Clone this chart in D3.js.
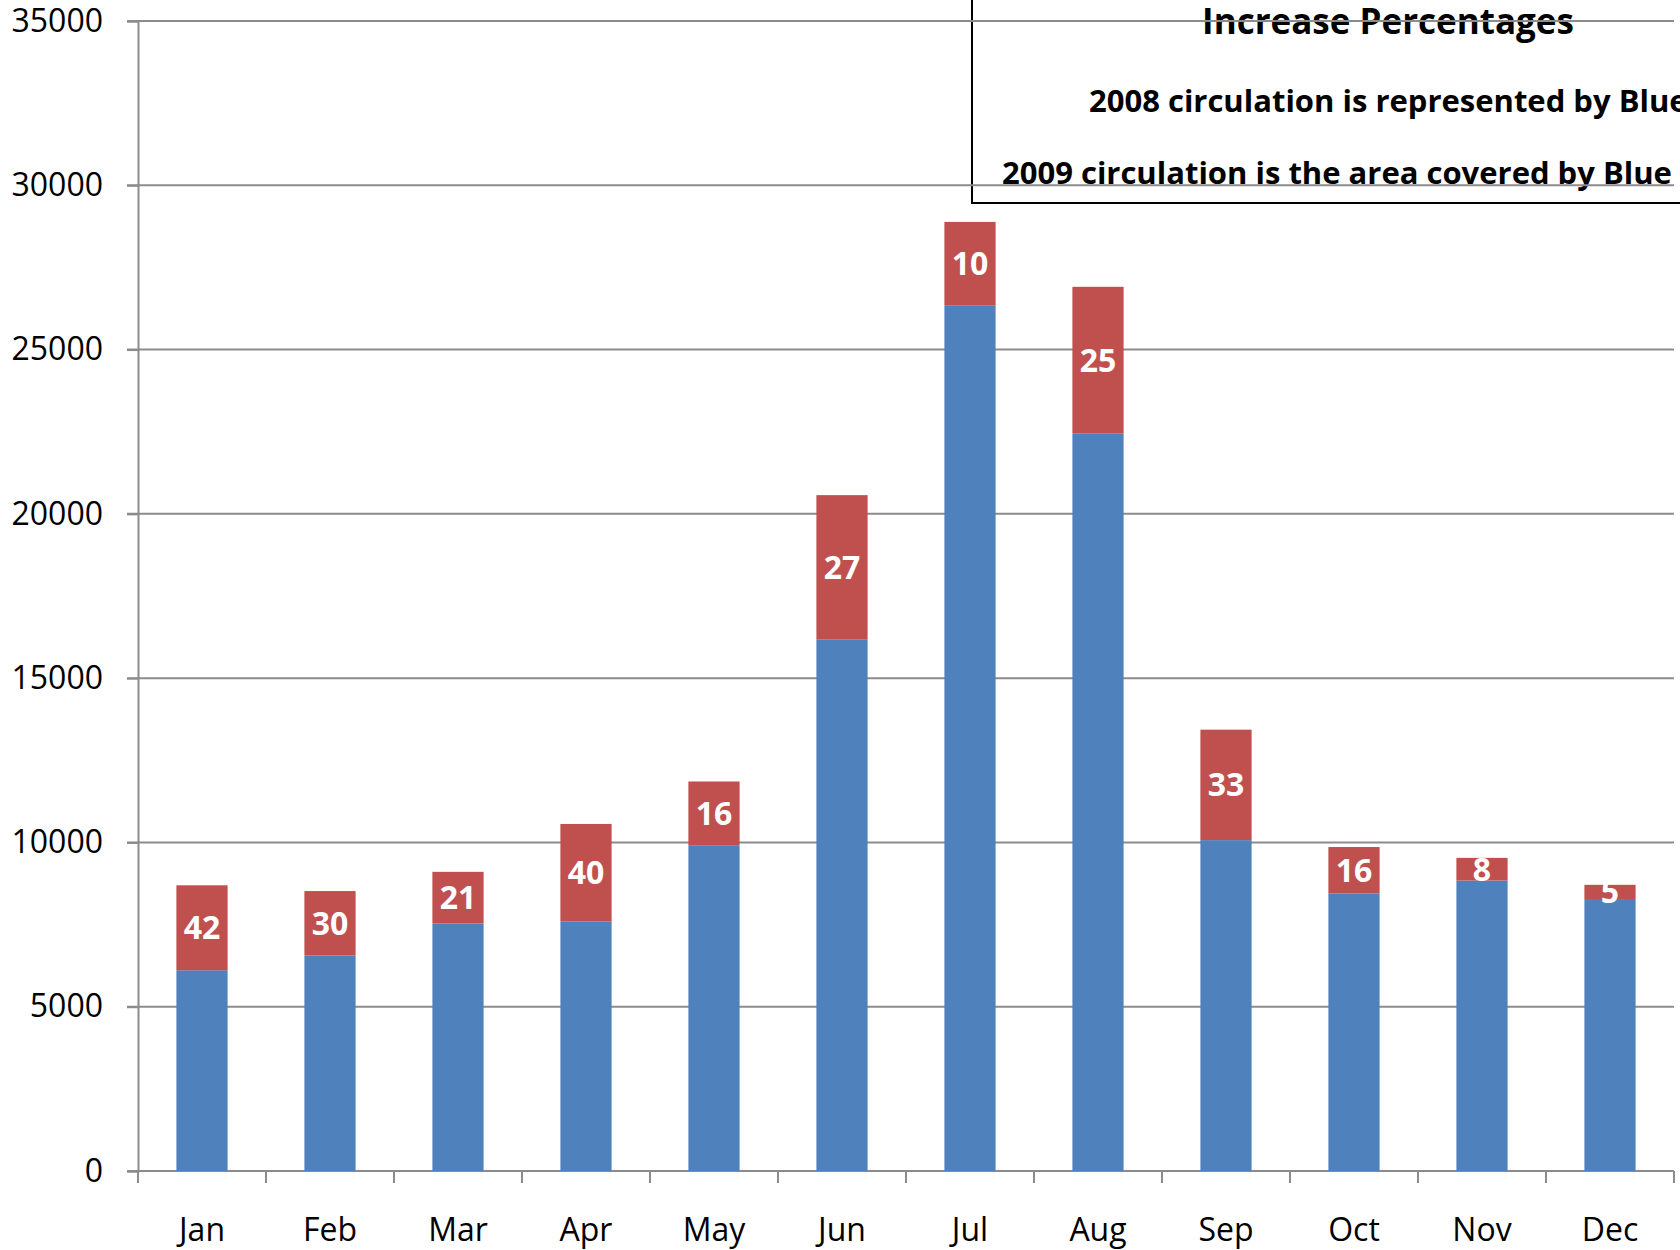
<!DOCTYPE html>
<html>
<head>
<meta charset="utf-8">
<script src="https://cdn.jsdelivr.net/npm/d3@7"></script>
<style>
  html, body { margin: 0; padding: 0; background: #fff; }
  svg { display: block; font-family: "Open Sans", "Noto Sans", sans-serif; }
</style>
</head>
<body>
<div id="chartArea"></div>
<script>
// months and circulation values
let months = ["Jan", "Feb", "Mar", "Apr", "May", "Jun", "Jul", "Aug", "Sep", "Oct", "Nov", "Dec"];
let circ2008 = [6110, 6560, 7535, 7590, 9915, 16170, 26335, 22440, 10070, 8450, 8840, 8278];
let circ2009 = [8695, 8520, 9105, 10562, 11855, 20570, 28885, 26910, 13432, 9860, 9530, 8710];
let increasePct = [42, 30, 21, 40, 16, 27, 10, 25, 33, 16, 8, 5];
let yTicks = [0, 5000, 10000, 15000, 20000, 25000, 30000, 35000];

let width = 1680;
let height = 1250;
let margin = {top: 21, right: 6, bottom: 79, left: 138};

let blue = "#4f81bd";
let red = "#c0504d";
let gridGray = "#8c8c8c";

let svg = d3.select("#chartArea")
  .append("svg")
  .attr("width", width)
  .attr("height", height);

let x = d3.scaleBand()
  .domain(months)
  .range([margin.left, width - margin.right])
  .paddingInner(0.6)
  .paddingOuter(0.3);

let y = d3.scaleLinear()
  .domain([0, 35000])
  .range([height - margin.bottom, margin.top]);

// text box in the upper right (sits under the gridlines)
let note = svg.append("g").attr("id", "note");
note.append("rect")
  .attr("x", 972)
  .attr("y", -10)
  .attr("width", width)
  .attr("height", 213)
  .attr("fill", "none")
  .attr("stroke", "#000")
  .attr("stroke-width", 2);

note.append("text")
  .attr("x", 1388)
  .attr("y", 34)
  .attr("text-anchor", "middle")
  .style("font-weight", "bold")
  .style("font-size", "35px")
  .text("Increase Percentages");

note.append("text")
  .attr("x", 1089)
  .attr("y", 112)
  .style("font-weight", "bold")
  .style("font-size", "31px")
  .text("2008 circulation is represented by Blue");

note.append("text")
  .attr("x", 1002)
  .attr("y", 184)
  .style("font-weight", "bold")
  .style("font-size", "31px")
  .text("2009 circulation is the area covered by Blue");

// gridlines
svg.append("g")
  .attr("id", "grid")
  .selectAll("line")
  .data(yTicks.slice(1))
  .enter()
  .append("line")
  .attr("x1", margin.left - 11)
  .attr("x2", width - margin.right)
  .attr("y1", d => y(d))
  .attr("y2", d => y(d))
  .style("stroke", gridGray)
  .style("stroke-width", "2px");

// y axis
let yAxis = svg.append("g")
  .attr("transform", "translate(" + margin.left + ",0)")
  .call(d3.axisLeft(y).tickValues(yTicks).tickSize(11).tickPadding(24).tickFormat(d3.format("d")));
yAxis.select(".domain").style("stroke", gridGray).style("stroke-width", "2px");
yAxis.selectAll(".tick line").style("stroke", gridGray).style("stroke-width", "2px");
yAxis.selectAll("text")
  .style("font-size", "32px")
  .style("font-family", "'Open Sans', sans-serif")
  .attr("fill", "#000");

// x axis: ticks sit between the categories
let xAxisG = svg.append("g")
  .attr("transform", "translate(0," + y(0) + ")");
xAxisG.append("line")
  .attr("x1", margin.left - 11)
  .attr("x2", width - margin.right)
  .style("stroke", gridGray)
  .style("stroke-width", "2px");
let edges = d3.range(months.length + 1).map(i => margin.left + i * (width - margin.left - margin.right) / months.length);
xAxisG.selectAll(".xtick")
  .data(edges)
  .enter()
  .append("line")
  .attr("class", "xtick")
  .attr("x1", d => d)
  .attr("x2", d => d)
  .attr("y1", 0)
  .attr("y2", 12)
  .style("stroke", gridGray)
  .style("stroke-width", "2px");
xAxisG.selectAll(".xlabel")
  .data(months)
  .enter()
  .append("text")
  .attr("class", "xlabel")
  .attr("x", d => x(d) + x.bandwidth() / 2)
  .attr("y", 70)
  .attr("text-anchor", "middle")
  .style("font-size", "32px")
  .text(d => d);

// stacked bars: 2008 in blue, 2009 increase in red on top
let bars = svg.append("g").attr("id", "bars");
bars.selectAll(".b2008")
  .data(months)
  .enter()
  .append("rect")
  .attr("class", "b2008")
  .attr("x", d => x(d))
  .attr("width", x.bandwidth())
  .attr("y", (d, i) => y(circ2008[i]))
  .attr("height", (d, i) => y(0) - y(circ2008[i]))
  .attr("fill", blue);

bars.selectAll(".b2009")
  .data(months)
  .enter()
  .append("rect")
  .attr("class", "b2009")
  .attr("x", d => x(d))
  .attr("width", x.bandwidth())
  .attr("y", (d, i) => y(circ2009[i]))
  .attr("height", (d, i) => y(circ2008[i]) - y(circ2009[i]))
  .attr("fill", red);

// percentage labels in the middle of the red part
bars.selectAll(".pct")
  .data(months)
  .enter()
  .append("text")
  .attr("class", "pct")
  .attr("x", d => x(d) + x.bandwidth() / 2)
  .attr("y", (d, i) => (y(circ2008[i]) + y(circ2009[i])) / 2)
  .attr("dy", "0.36em")
  .attr("text-anchor", "middle")
  .style("font-size", "32px")
  .style("font-weight", "bold")
  .attr("fill", "#fff")
  .text((d, i) => increasePct[i]);
</script>
</body>
</html>
